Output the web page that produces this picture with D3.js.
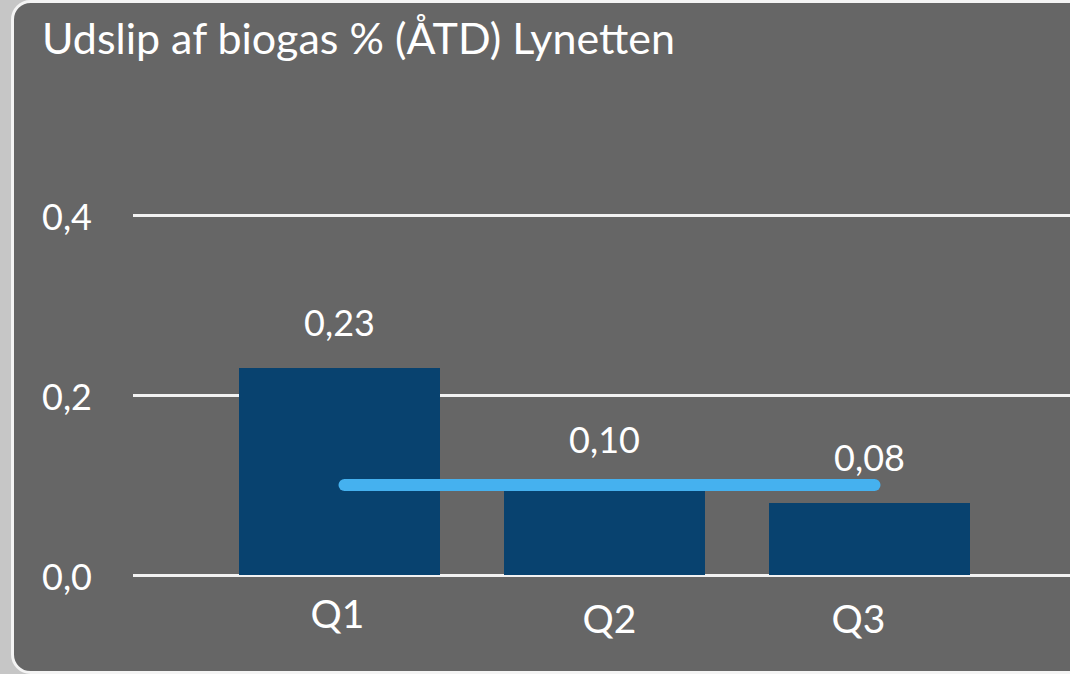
<!DOCTYPE html>
<html>
<head>
<meta charset="utf-8">
<script src="https://cdn.jsdelivr.net/npm/d3@7"></script>
<style>
  html, body { margin: 0; padding: 0; background: #c6c6c6; overflow: hidden; }
  text { font-family: Lato, "Open Sans", sans-serif; fill: #ffffff; }
</style>
</head>
<body>
<div id="chart"></div>
<script>
// Data
var quarters = ["Q1", "Q2", "Q3"];
var emission = [0.23, 0.10, 0.08];
var target = [0.10, 0.10, 0.10];
var yTicks = [0, 0.2, 0.4];

// Small nudges for the quarter labels (they sit a bit off centre in the original)
var quarterLabelDx = [-2, 5, -11];
var quarterLabelDy = [-3, 2, 2];

var svgWidth = 1070;
var svgHeight = 674;

var margin = { top: 215, right: 0, bottom: 99, left: 133 };

var svg = d3.select("#chart")
    .append("svg")
    .attr("width", svgWidth)
    .attr("height", svgHeight);

// Panel with rounded white border
svg.append("rect")
    .attr("x", 12.5)
    .attr("y", 1.5)
    .attr("width", 1120)
    .attr("height", 671)
    .attr("rx", 18)
    .attr("fill", "#666666")
    .attr("stroke", "#f4f4f4")
    .attr("stroke-width", 3);

// Title
svg.append("text")
    .attr("x", 42)
    .attr("y", 54)
    .attr("font-size", "43px")
    .text("Udslip af biogas % (ÅTD) Lynetten");

// Scales
var xScale = d3.scaleBand()
    .domain(quarters)
    .range([239, 970])
    .paddingInner(0.2415)
    .paddingOuter(0);

var yScale = d3.scaleLinear()
    .domain([0, 0.4])
    .range([575, margin.top]);

var commaFmt = function(f) {
    return function(v) { return d3.format(f)(v).replace(".", ","); };
};

// Y axis with gridlines
var leftAxis = d3.axisLeft(yScale)
    .tickValues(yTicks)
    .tickSize(-(svgWidth - margin.left))
    .tickPadding(41)
    .tickFormat(commaFmt(".1f"));

var yAxis = svg.append("g")
    .attr("transform", `translate(${margin.left}, 0)`)
    .call(leftAxis);

yAxis.select(".domain").remove();
yAxis.selectAll(".tick line")
    .attr("stroke", "#f2f2f2")
    .attr("stroke-width", 3);
yAxis.selectAll(".tick text")
    .attr("font-family", "Lato, 'Open Sans', sans-serif")
    .attr("font-size", "36px")
    .attr("fill", "#ffffff")
    .attr("dy", "0.39em");

// Bars
svg.selectAll(".bar")
    .data(emission)
    .enter()
    .append("rect")
    .classed("bar", true)
    .attr("x", (d, i) => xScale(quarters[i]))
    .attr("y", d => yScale(d))
    .attr("width", xScale.bandwidth())
    .attr("height", d => yScale(0) - yScale(d))
    .attr("fill", "#08426f");

// Target line
var line = d3.line()
    .x((d, i) => xScale(quarters[i]) + xScale.bandwidth() / 2 + 5)
    .y(d => yScale(d));

svg.append("path")
    .datum(target)
    .attr("d", line)
    .attr("fill", "none")
    .attr("stroke", "#45b1ef")
    .attr("stroke-width", 12)
    .attr("stroke-linecap", "round");

// Data labels
svg.selectAll(".dataLabel")
    .data(emission)
    .enter()
    .append("text")
    .classed("dataLabel", true)
    .attr("x", (d, i) => xScale(quarters[i]) + xScale.bandwidth() / 2)
    .attr("y", d => yScale(d) - 32)
    .attr("text-anchor", "middle")
    .attr("font-size", "36px")
    .text(commaFmt(".2f"));

// X axis labels
var bottomAxis = d3.axisBottom(xScale)
    .tickSize(0)
    .tickPadding(0);

var xAxis = svg.append("g")
    .attr("transform", `translate(0, ${yScale(0)})`)
    .call(bottomAxis);

xAxis.select(".domain").remove();
xAxis.selectAll(".tick text")
    .attr("font-family", "Lato, 'Open Sans', sans-serif")
    .attr("font-size", "39px")
    .attr("fill", "#ffffff")
    .attr("dy", null)
    .attr("x", (d, i) => quarterLabelDx[i])
    .attr("y", (d, i) => 56 + quarterLabelDy[i]);
</script>
</body>
</html>
